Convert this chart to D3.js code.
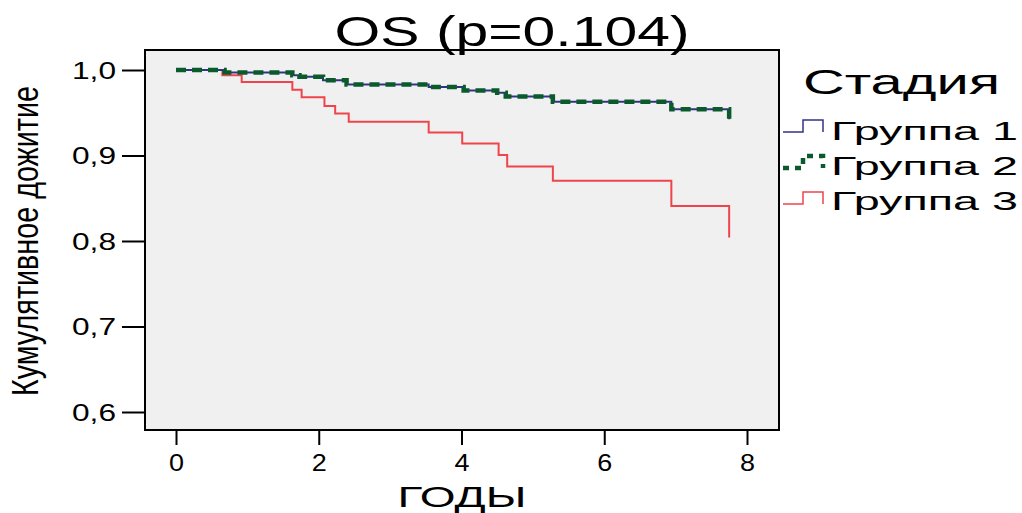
<!DOCTYPE html>
<html><head><meta charset="utf-8">
<script src="https://cdn.jsdelivr.net/npm/d3@7"></script>
<style>
html,body{margin:0;padding:0;background:#fff;}
text{font-family:"Liberation Sans",Arial,sans-serif;fill:#000;}
</style></head>
<body>
<svg id="chart" width="1022" height="513"></svg>
<script>
// ---- data ----
const chartTitle = "OS (p=0.104)";
const xTitle = "ГОДЫ";
const yTitle = "Кумулятивное дожитие";
const legendTitle = "Стадия";
const groupNames = ["Группа 1", "Группа 2", "Группа 3"];
const xTicks = [0, 2, 4, 6, 8];
const yTicks = [0.6, 0.7, 0.8, 0.9, 1.0];
const yTickLabels = ["0,6", "0,7", "0,8", "0,9", "1,0"];

const group1Times    = [0, 0.68, 1.63, 1.73, 2.06, 2.39, 3.54, 4.03, 4.50, 4.62, 5.28, 6.94, 7.75, 7.75];
const group1Survival = [1.0, 0.997, 0.994, 0.992, 0.988, 0.983, 0.980, 0.976, 0.9735, 0.969, 0.963, 0.954, 0.954, 0.9425];
const group2Times    = [0, 0.68, 1.63, 1.73, 2.06, 2.39, 3.54, 4.03, 4.50, 4.62, 5.28, 6.94, 7.75, 7.75];
const group2Survival = [1.0, 0.997, 0.994, 0.992, 0.988, 0.983, 0.980, 0.976, 0.9735, 0.969, 0.963, 0.954, 0.954, 0.9425];
const group3Times    = [0, 0.65, 0.92, 1.63, 1.76, 2.08, 2.23, 2.42, 3.54, 4.01, 4.52, 4.64, 5.28, 6.94, 7.75, 7.75];
const group3Survival = [1.0, 0.994, 0.986, 0.977, 0.968, 0.958, 0.949, 0.9395, 0.927, 0.914, 0.9005, 0.887, 0.8705, 0.841, 0.841, 0.804];

const colors = ["#32328a", "#0b5a2c", "#f0444c"];

// ---- layout ----
const svg = d3.select("#chart");
const box = {left: 145, right: 779, top: 50, bottom: 430};
const x = d3.scaleLinear().domain([0, 8]).range([176, 747]);
const y = d3.scaleLinear().domain([0.6, 1.0]).range([412, 70]);

// plot background
svg.append("rect")
  .attr("x", box.left).attr("y", box.top)
  .attr("width", box.right - box.left).attr("height", box.bottom - box.top)
  .attr("fill", "#f0f0f0");

// series
const series = [
  {t: group1Times, s: group1Survival, color: colors[0], width: 2, dash: null},
  {t: group2Times, s: group2Survival, color: colors[1], width: 4.5, dash: "10,6"},
  {t: group3Times, s: group3Survival, color: colors[2], width: 2, dash: null}
];
const line = d3.line().x(d => x(d[0])).y(d => y(d[1])).curve(d3.curveStepAfter);
[series[2], series[0], series[1]].forEach(sr => {
  const pts = sr.t.map((t, i) => [t, sr.s[i]]);
  svg.append("path")
    .attr("d", line(pts))
    .attr("fill", "none")
    .attr("stroke", sr.color)
    .attr("stroke-width", sr.width)
    .attr("stroke-dasharray", sr.dash)
    .attr("stroke-linejoin", "miter");
});

// box border
svg.append("rect")
  .attr("x", box.left).attr("y", box.top)
  .attr("width", box.right - box.left).attr("height", box.bottom - box.top)
  .attr("fill", "none").attr("stroke", "#000").attr("stroke-width", 2);

// y axis
const yAxis = d3.axisLeft(y).tickValues(yTicks).tickSize(23)
  .tickFormat((d, i) => yTickLabels[i]);
const gy = svg.append("g").attr("transform", `translate(${box.left},0)`).call(yAxis);
gy.select(".domain").remove();
gy.selectAll(".tick line").attr("stroke", "#000").attr("stroke-width", 2);
gy.selectAll(".tick text")
  .attr("x", -29).attr("dy", "0.36em")
  .attr("font-size", 23).attr("font-family", "Liberation Sans, Arial, sans-serif")
  .attr("fill", "#000")
  .attr("textLength", 44).attr("lengthAdjust", "spacingAndGlyphs");

// x axis
const xAxis = d3.axisBottom(x).tickValues(xTicks).tickSize(14).tickFormat(d3.format("d"));
const gx = svg.append("g").attr("transform", `translate(0,${box.bottom + 1})`).call(xAxis);
gx.select(".domain").remove();
gx.selectAll(".tick line").attr("stroke", "#000").attr("stroke-width", 2);
gx.selectAll(".tick text")
  .attr("y", 24).attr("dy", "0.71em")
  .attr("font-size", 23).attr("font-family", "Liberation Sans, Arial, sans-serif")
  .attr("fill", "#000")
  .attr("textLength", 15).attr("lengthAdjust", "spacingAndGlyphs");

// titles
svg.append("text").attr("x", 512).attr("y", 46)
  .attr("text-anchor", "middle").attr("font-size", 43)
  .attr("textLength", 355).attr("lengthAdjust", "spacingAndGlyphs")
  .text(chartTitle);
svg.append("text").attr("x", 462).attr("y", 507)
  .attr("text-anchor", "middle").attr("font-size", 30)
  .attr("textLength", 129).attr("lengthAdjust", "spacingAndGlyphs")
  .text(xTitle);
svg.append("text")
  .attr("transform", "translate(38,241) rotate(-90)")
  .attr("text-anchor", "middle").attr("font-size", 36)
  .attr("textLength", 310).attr("lengthAdjust", "spacingAndGlyphs")
  .text(yTitle);

// legend
svg.append("text").attr("x", 803).attr("y", 94)
  .attr("font-size", 35)
  .attr("textLength", 197).attr("lengthAdjust", "spacingAndGlyphs")
  .text(legendTitle);
const legY = [132, 168, 204];
const legBase = [140, 175, 210];
series.forEach((sr, i) => {
  const lo = legY[i], hi = legY[i] - 12;
  svg.append("path")
    .attr("d", `M783,${lo}H803V${hi}H823V${lo}`)
    .attr("fill", "none").attr("stroke", sr.color)
    .attr("stroke-width", i === 1 ? 4.5 : 1.5)
    .attr("stroke-dasharray", i === 1 ? "6,6" : null);
  svg.append("text").attr("x", 831).attr("y", legBase[i])
    .attr("font-size", 26)
    .attr("textLength", 187).attr("lengthAdjust", "spacingAndGlyphs")
    .text(groupNames[i]);
});
</script>
</body></html>
